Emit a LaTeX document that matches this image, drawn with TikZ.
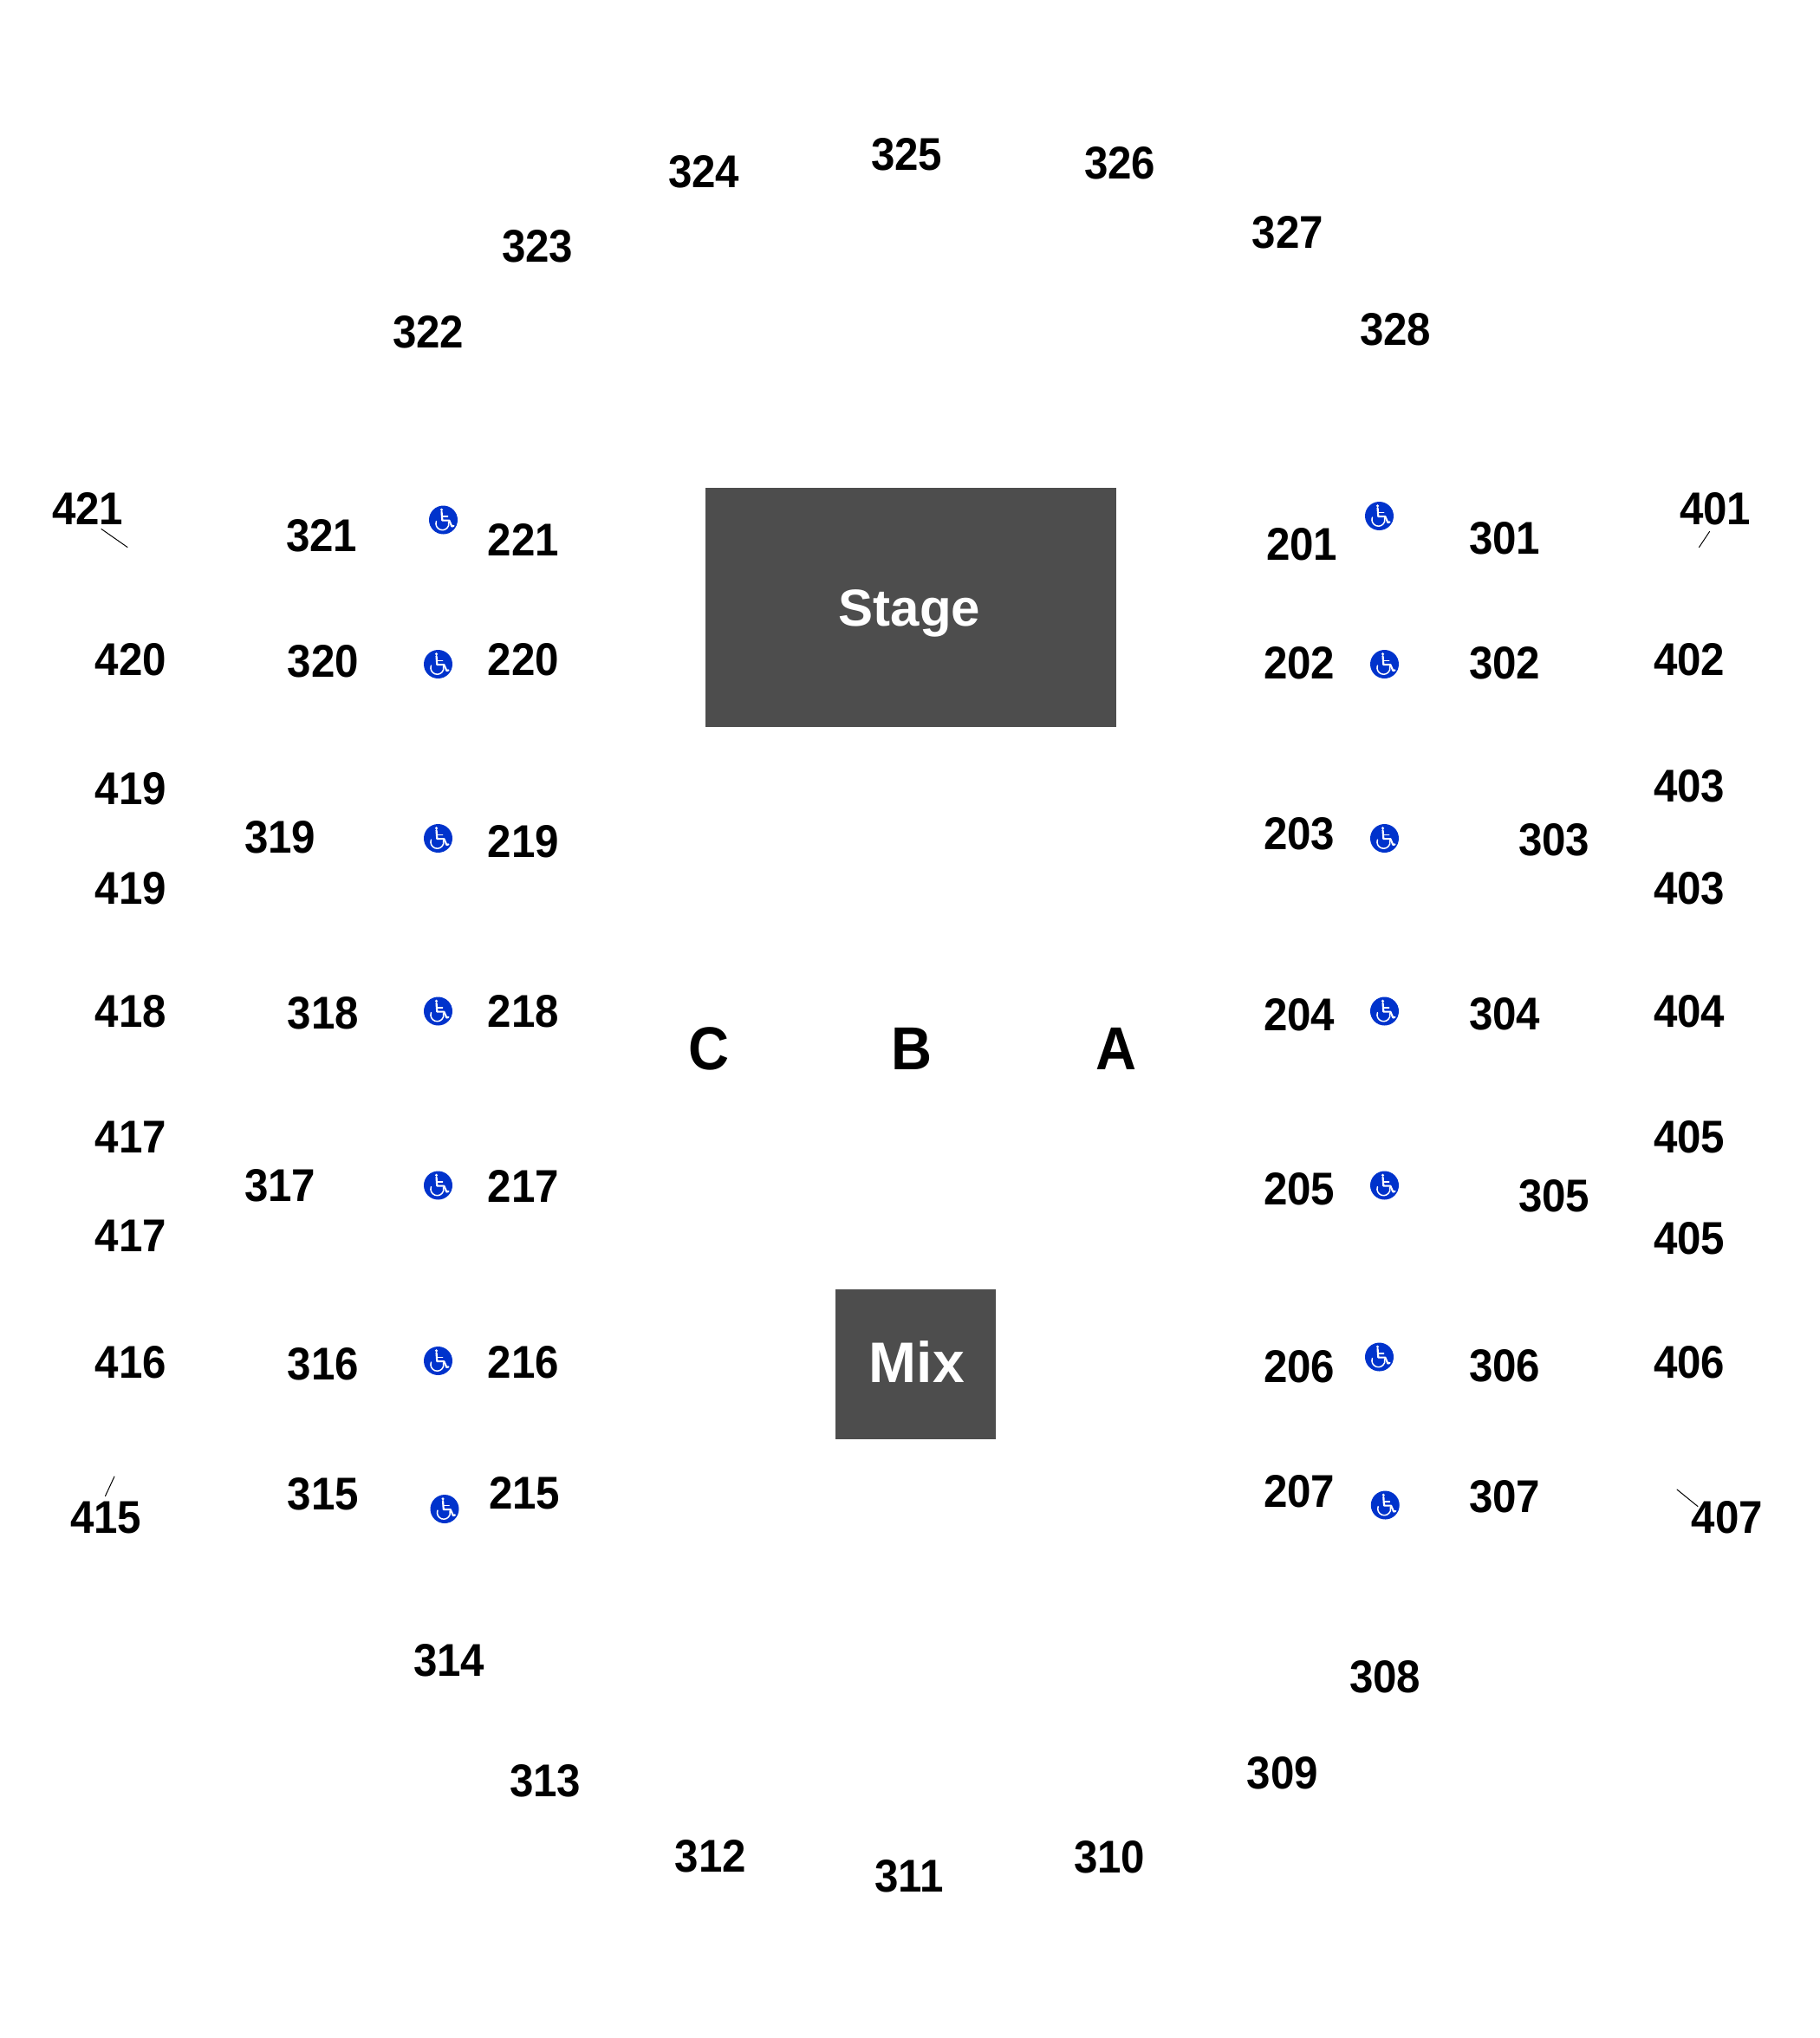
\documentclass[tikz,border=0pt]{standalone}
\usepackage{fontspec}
\setmainfont{Liberation Sans}
\newfontfamily\secfont[FakeStretch=0.93]{Liberation Sans}
\definecolor{blockgray}{HTML}{4D4D4D}
\definecolor{accessblue}{HTML}{0033CC}
\tikzset{
  seclabel/.style={font=\secfont\fontsize{26.5}{26.5}\selectfont\bfseries, inner sep=0pt, text=black},
  floorlabel/.style={font=\secfont\fontsize{35}{35}\selectfont\bfseries, inner sep=0pt, text=black},
  blocklabel/.style={text=white, inner sep=0pt},
  block/.style={fill=blockgray, draw=none},
  leader/.style={draw=black, line width=0.5pt},
  accessdot/.pic={
    \fill [accessblue] (0,0) circle (11);
    \fill [white] (-1.3,-7.8) circle (1.1);
    \draw [white, line width=1.1pt, line cap=round, line join=round] (-1.3,-6.3) -- (-0.8,0.4) -- (4.5,0.4) -- (6.6,5) -- (8,4.6);
    \draw [white, line width=0.8pt] (-1,-2.6) -- (3.4,-2.6);
    \draw [white, line width=0.75pt] (-0.7,2.8) ++(200:5) arc (200:-15:5);
  }
}
\begin{document}
\begin{tikzpicture}[x=0.75pt, y=-0.75pt, line cap=round, line join=round]
  \useasboundingbox (0,0) rectangle (1400,1568);
  % stage and mix
  \fill [block] (542.6,375) rectangle (858.6,559);
  \fill [block] (642.6,992) rectangle (766,1107);
  \node [blocklabel, font=\fontsize{30}{30}\selectfont\bfseries] (stage) at (699.6,472) {Stage};
  \node [blocklabel, font=\fontsize{33}{33}\selectfont\bfseries] (mix) at (705.2,1048) {Mix};
  \node [floorlabel] (floorC) at (545,807) {C};
  \node [floorlabel] (floorB) at (701,807) {B};
  \node [floorlabel] (floorA) at (858.5,807) {A};
  % section numbers
  \foreach \x/\y/\t [count=\i] in {
    541.5/132/324, 697.5/119/325, 861.5/125.5/326, 990.5/179/327, 1073.5/253.5/328, 413.5/189.5/323, 329.5/255.5/322,
    67.5/391.5/421, 247.5/412.5/321, 402.5/415.5/221, 1001.5/418.5/201, 1157.5/414/301, 1319.5/391.5/401,
    100.5/507.5/420, 248.5/509/320, 402.5/507.5/220, 999.5/510/202, 1157.5/510/302, 1299.5/507.5/402,
    100.5/606.5/419, 1299.5/605/403, 215.5/644.5/319, 402.5/647.5/219, 999.5/641.5/203, 1195.5/646.5/303, 100.5/683.5/419, 1299.5/683.5/403,
    100.5/778/418, 248.5/779.5/318, 402.5/778/218, 999.5/780.5/204, 1157.5/780.5/304, 1299.5/778/404,
    100.5/874.5/417, 1299.5/874.5/405, 215.5/912.5/317, 402.5/912.5/217, 999.5/915/205, 1195.5/920.5/305, 100.5/951/417, 1299.5/953/405,
    100.5/1048/416, 248.5/1049.5/316, 402.5/1048/216, 999.5/1051.5/206, 1157.5/1051/306, 1299.5/1048/406,
    81.5/1167.5/415, 248.5/1149.5/315, 403.5/1148.5/215, 999.5/1147.5/207, 1157.5/1151.5/307, 1328.5/1167.5/407,
    345.5/1277.5/314, 1065.5/1290/308, 419.5/1370.5/313, 986.5/1364/309, 546.5/1428.5/312, 699.5/1443.5/311, 853.5/1429/310}
    \node [seclabel] (sec\i) at (\x,\y) {\t};
  % accessible seating
  \foreach \x/\y in {341/400, 337/511, 337/645, 337/778, 337/912, 337/1047, 342/1161,
    1061/397, 1065/511, 1065/645, 1065/778, 1065/912, 1061/1044, 1065.5/1158}
    \pic at (\x,\y) {accessdot};
  % leaders
  \coordinate (a421) at (78,407);
  \coordinate (b421) at (98,421);
  \coordinate (a401) at (1315,409);
  \coordinate (b401) at (1307,421);
  \coordinate (a407) at (1290,1146);
  \coordinate (b407) at (1306,1159);
  \coordinate (a415) at (88,1136);
  \coordinate (b415) at (81,1151);
  \draw [leader] (a421) -- (b421);
  \draw [leader] (a401) -- (b401);
  \draw [leader] (a407) -- (b407);
  \draw [leader] (a415) -- (b415);
\end{tikzpicture}
\end{document}
